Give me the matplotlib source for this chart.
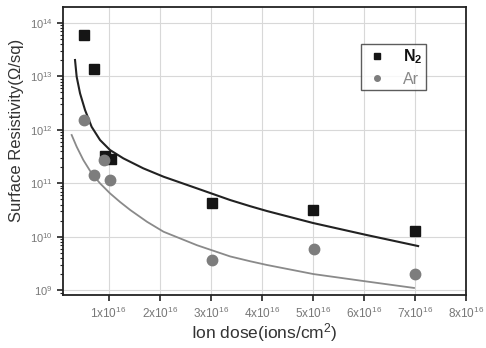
import numpy as np
import matplotlib.pyplot as plt
from matplotlib.ticker import FixedLocator, LogLocator, NullFormatter

plt.rcParams['font.family'] = ['Liberation Sans', 'DejaVu Sans']
plt.rcParams['mathtext.default'] = 'regular'

# measured points (dose in 1e16 ions/cm2, resistivity in ohm/sq)
n2_dose = [0.52, 0.72, 0.93, 1.05, 3.03, 5.0, 7.0]
n2_res = [6.0e13, 1.35e13, 3.2e11, 2.8e11, 4.2e10, 3.2e10, 1.26e10]
ar_dose = [0.52, 0.72, 0.91, 1.02, 3.03, 5.02, 7.0]
ar_res = [1.5e12, 1.4e11, 2.7e11, 1.15e11, 3.7e9, 5.9e9, 2.0e9]

# fitted curves (log10 of resistivity)
n2_fit_dose = [0.342, 0.374, 0.440, 0.538, 0.667, 0.832, 1.027, 1.288, 1.679, 2.076,
               2.730, 3.382, 3.773, 4.10, 5.006, 6.057, 7.061]
n2_fit_log = [13.307, 12.994, 12.684, 12.371, 12.057, 11.809, 11.622, 11.466, 11.279, 11.122,
              10.904, 10.685, 10.57, 10.48, 10.255, 10.030, 9.824]
ar_fit_dose = [0.276, 0.374, 0.505, 0.667, 0.832, 1.027, 1.223, 1.425, 1.751, 2.076,
               2.73, 3.38, 3.77, 4.10, 5.01, 6.06, 6.98]
ar_fit_log = [11.903, 11.684, 11.434, 11.185, 10.998, 10.811, 10.65, 10.498, 10.279, 10.092,
              9.84, 9.63, 9.54, 9.47, 9.30, 9.16, 9.04]

x_ticks = [1, 2, 3, 4, 5, 6, 7, 8]
y_ticks = [1e9, 1e10, 1e11, 1e12, 1e13, 1e14]

fig = plt.figure(figsize=(4.86, 3.48), dpi=100)
ax = fig.add_axes([0.130, 0.152, 0.829, 0.828])

ax.plot(n2_fit_dose, 10 ** np.array(n2_fit_log), '-', color='#222222', lw=1.5, zorder=2)
ax.plot(ar_fit_dose, 10 ** np.array(ar_fit_log), '-', color='#8a8a8a', lw=1.3, zorder=2)
ax.plot(n2_dose, n2_res, 's', color='#151515', markersize=7, ls='none', zorder=3)
ax.plot(ar_dose, ar_res, 'o', color='#7d7d7d', markersize=7.5, ls='none', zorder=3)

ax.set_yscale('log')
ax.set_xlim(0.11, 8)
ax.set_ylim(10 ** 8.906, 10 ** 14.30)

ax.xaxis.set_major_locator(FixedLocator(x_ticks))
ax.set_xticklabels([r'%dx10$^{16}$' % t for t in x_ticks])
ax.yaxis.set_major_locator(FixedLocator(y_ticks))
ax.set_yticklabels([r'10$^{%d}$' % int(np.log10(t)) for t in y_ticks])
ax.yaxis.set_minor_locator(LogLocator(base=10, subs=np.arange(2, 10) * 1.0, numticks=20))
ax.yaxis.set_minor_formatter(NullFormatter())

ax.tick_params(axis='x', which='major', labelsize=8.5)
ax.tick_params(axis='y', which='major', labelsize=8)
ax.tick_params(axis='both', which='major', direction='out', length=4, width=1.2,
               labelcolor='#777777', color='#222222')
ax.tick_params(axis='y', which='minor', direction='out', length=2.5, width=0.8, color='#222222')
ax.grid(True, which='major', color='#d8d8d8', lw=0.8, zorder=0)
for s in ax.spines.values():
    s.set_linewidth(1.3)
    s.set_color('#222222')

ax.set_xlabel('Ion dose(ions/cm$^{2}$)', fontsize=12.5, color='#333333', labelpad=0)
ax.set_ylabel('Surface Resistivity(\u03a9/sq)', fontsize=12, color='#333333')
ax.yaxis.set_label_coords(-0.097, 0.57)

h1, = ax.plot([], [], 's', color='#151515', markersize=4)
h2, = ax.plot([], [], 'o', color='#7d7d7d', markersize=4)
leg = ax.legend([h1, h2], ['N$_2$', 'Ar'], loc='upper left', bbox_to_anchor=(0.74, 0.872),
                borderaxespad=0, fontsize=11.5, frameon=True, fancybox=False,
                edgecolor='#333333', handlelength=1.5, handletextpad=0.9,
                borderpad=0.22, labelspacing=0.35, markerfirst=True)
leg.get_frame().set_linewidth(1.0)
leg.get_texts()[0].set_color('#111111')
leg.get_texts()[0].set_fontweight('bold')
leg.get_texts()[1].set_color('#888888')

fig.savefig('out.png', dpi=100)
